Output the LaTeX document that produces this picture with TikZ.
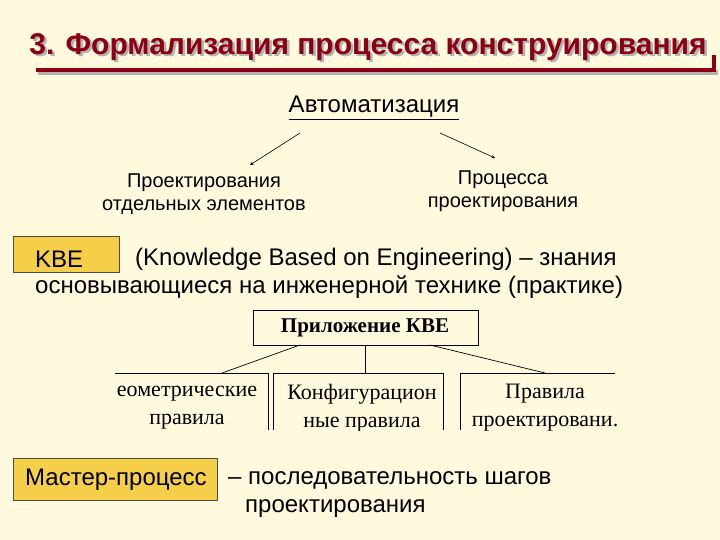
\documentclass[tikz,border=0pt]{standalone}
\usepackage{fontspec}
\setmainfont{Liberation Sans}
\newfontfamily\tms{Liberation Serif}
\definecolor{bg}{RGB}{255,250,222}
\definecolor{dred}{RGB}{140,0,20}
\definecolor{ybox}{RGB}{245,206,74}
\tikzset{
  txt/.style={inner sep=0pt, font=\fontsize{24}{28}\selectfont},
  small/.style={inner sep=0pt, align=center, font=\fontsize{20}{23}\selectfont},
  ser/.style={inner sep=0pt, align=center, font=\tms\fontsize{22}{28}\selectfont},
  ybx/.style={draw=black!70, fill=ybox, line width=0.6pt},
  arr/.style={-stealth, line width=0.6pt},
  ln/.style={line width=0.7pt},
  ttl/.style={inner sep=0pt, font=\bfseries\fontsize{30}{34}\selectfont}
}
\begin{document}
\begin{tikzpicture}[x=1pt,y=-1pt]
\fill[bg] (0,0) rectangle (720,540);
\useasboundingbox (0,0) rectangle (720,540);
% title
\node[ttl, text=black!30] (tshadow) at (370.5,49.5) {3. Формализация процесса конструирования};
\node[ttl, text=dred] (title) at (368,47) {3. Формализация процесса конструирования};
\fill[black!30] (38,70) rectangle (718,75);
\fill[dred] (36,68) rectangle (716,72);
\fill[dred] (712,55) rectangle (716,72);
% automation
\node[txt] (auto) at (374,108) {\underline{Автоматизация}};
\node[small] (left) at (204,194) {Проектирования\\отдельных элементов};
\node[small] (right) at (503,191) {Процесса\\проектирования};
\coordinate (a1) at (300,133); \coordinate (a2) at (440,133);
\draw[arr] (a1) -- (250,165) coordinate (b1);
\draw[arr] (a2) -- (495,158) coordinate (b2);
% KBE
\draw[ybx] (13,236) rectangle (119,272);
\node[txt, anchor=west] (kbe) at (35,259) {KBE};
\node[txt, anchor=west] (kbedef) at (135,259) {(Knowledge Based on Engineering) – знания};
\node[txt, anchor=west] (kbedef2) at (35,287) {основывающиеся на инженерной технике (практике)};
% KBE application chart
\draw[ln] (253,310) rectangle (478,345);
\node[ser, font=\tms\bfseries\fontsize{21}{24}\selectfont] (app) at (365,328) {Приложение КВЕ};
\draw[ln] (115,373) -- (268,373) -- (268,430);
\draw[ln] (273,430) -- (273,373) -- (443,373) -- (443,430);
\draw[ln] (460,430) -- (460,373) -- (615,373);
\draw[ln] (300,345) -- (222,373);
\draw[ln] (365,345) -- (365,373);
\draw[ln] (430,345) -- (545,373);
\begin{scope}
\clip (100,374) rectangle (620,430);
\node[ser] (g1) at (187,408) {еометрические\\правила};
\node[ser] (g2) at (362,408) {Конфигурацион\\ные правила};
\node[ser] (g3) at (545,408) {Правила\\проектировани.};
\end{scope}
% master process
\draw[ybx] (13,458) rectangle (217,500);
\node[txt, anchor=west] (mp) at (25,480) {Мастер-процесс};
\node[txt, anchor=west] (mpd) at (228,480) {– последовательность шагов};
\node[txt, anchor=west] (mpd2) at (245,509) {проектирования};
\end{tikzpicture}
\end{document}
